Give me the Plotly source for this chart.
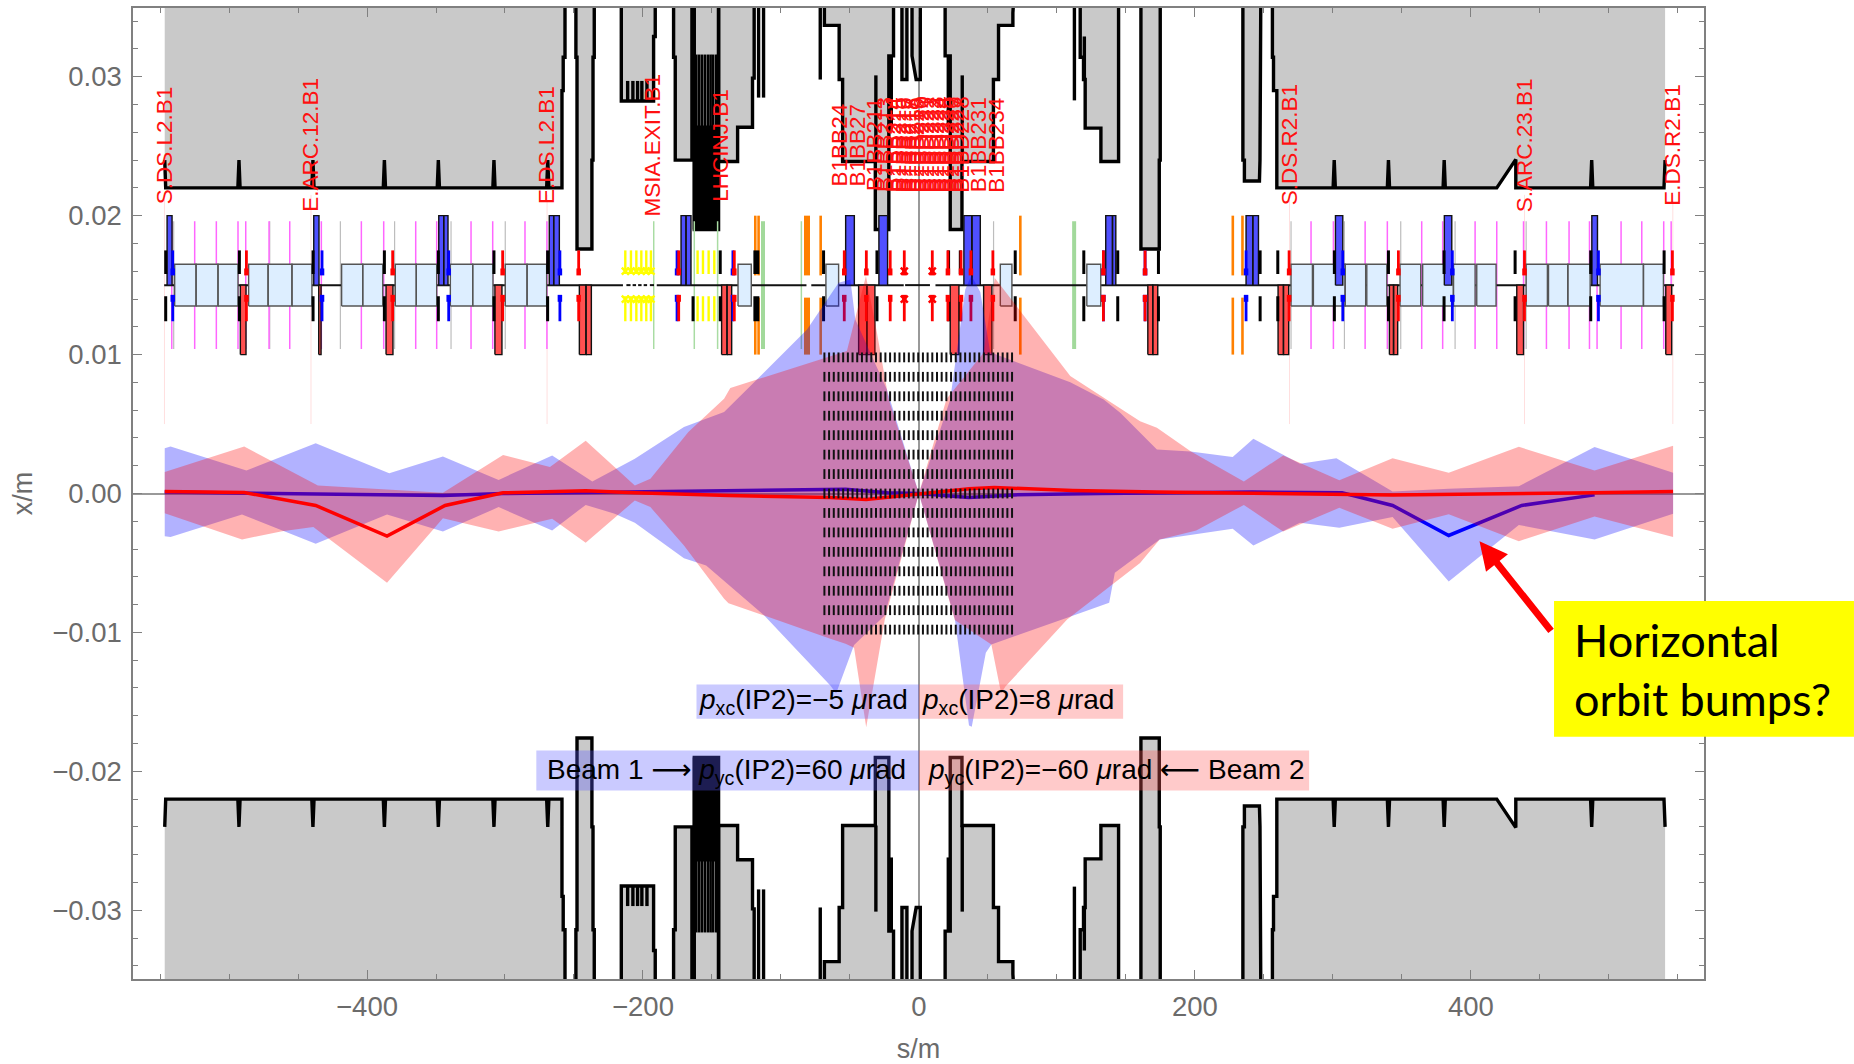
import plotly.graph_objects as go

# ---- aperture (upper side; lower side is its mirror) : s [m], x [m]
ARC_L_S = [-546.6,-546.6,-545.9,-493.6,-492.8,-492.0,-440.0,-439.2,-438.4,-388.2,-387.4,-386.6,-349.1,-348.3,-347.5,-308.8,-308.0,-307.2,-269.8,-269.0,-268.2,-258.7,-258.7,-257.8,-257.8,-256.5,-256.5]
ARC_L_X = [0.036,0.024,0.022,0.022,0.024,0.022,0.022,0.024,0.022,0.022,0.024,0.022,0.022,0.024,0.022,0.022,0.024,0.022,0.022,0.024,0.022,0.022,0.029,0.029,0.0314,0.0314,0.036]
ARC_R_S = [256.2,256.2,257.0,257.0,259.4,259.4,300.2,301.0,301.8,339.5,340.3,341.1,379.9,380.7,381.5,418.8,432.6,432.6,486.8,487.6,488.4,540.0,540.8,540.8]
ARC_R_X = [0.036,0.0314,0.0314,0.029,0.029,0.022,0.022,0.024,0.022,0.022,0.024,0.022,0.022,0.024,0.022,0.022,0.02405,0.022,0.022,0.024,0.022,0.022,0.024,0.036]
BLOCKS = [
    ([-248.6,-248.6,-247.8,-247.8,-237.0,-237.0,-236.2,-236.2,-235.3,-235.3],[0.036,0.0314,0.0314,0.0176,0.0176,0.024,0.024,0.0314,0.0314,0.036]),
    ([-215.7,-215.7,-192.3,-192.3,-191.1,-191.1],[0.036,0.02825,0.02825,0.0329,0.0329,0.036]),
    ([-177.8,-177.8,-176.6,-176.6,-164.5,-164.5],[0.036,0.0314,0.0314,0.024,0.024,0.036]),
    ([-162.8,-162.8,-145.2,-145.2],[0.036,0.019,0.019,0.036]),
    ([-145.2,-145.2,-131.4,-131.4,-120.6,-120.6,-119.4,-119.4],[0.036,0.0239,0.0239,0.02637,0.02637,0.0299,0.0299,0.036]),
    ([-68.5,-68.5,-57.8,-57.8,-55.3,-55.3,-31.6,-31.6,-21.8,-21.8,-18.4,-18.4],[0.036,0.0337,0.0337,0.0298,0.0298,0.0239,0.0239,0.019,0.019,0.0315,0.0315,0.036]),
    ([-12.3,-12.3,-8.7,-8.7],[0.036,0.0298,0.0298,0.036]),
    ([-5.0,-5.0,-2.0,1.0,1.0],[0.036,0.0315,0.0298,0.0298,0.036]),
    ([19.0,19.0,22.7,22.7,31.2,31.2,54.0,54.0,57.7,57.7,68.1,68.1,69.0],[0.036,0.0315,0.0315,0.019,0.019,0.0239,0.0239,0.0298,0.0298,0.0337,0.0337,0.0346,0.036]),
    ([116.9,116.9,119.3,119.3,120.5,120.5,131.9,131.9,144.7,144.7],[0.036,0.0314,0.0314,0.0298,0.0298,0.0263,0.0263,0.0239,0.0239,0.036]),
    ([160.9,160.9,174.2,174.2,174.9,174.9],[0.036,0.0176,0.0176,0.024,0.024,0.036]),
    ([234.8,234.8,235.9,235.9,246.8,247.2,247.8],[0.036,0.024,0.024,0.0225,0.0225,0.024,0.036]),
]
STUB_S  = [-211.1,-207.3,-203.9,-200.8,-197.1,-116.2,-112.6,-71.5,-31.2,-20.0,21.3,31.4,112.7,119.9]
STUB_LO = [0.02825,0.02825,0.02825,0.02825,0.02825,0.0285,0.0285,0.0298,0.0239,0.0262,0.0262,0.0239,0.0283,0.0298]
STUB_HI = [0.0297,0.0297,0.0297,0.0297,0.0297,0.036,0.036,0.036,0.0301,0.0315,0.0315,0.0301,0.036,0.0329]
INJ_STRIPE_S = [-161.5,-157.4,-153.0,-149.2,-145.6,-163.0,-147.0,-159.5,-155.2,-151.0]

# ---- lattice elements
CENTRE_LO = [-547,-212,-207.5,-203.5,-199.5,-195,-190,-78,-10,12]
CENTRE_HI = [-214.5,-209,-205,-201,-197,-192,-81.5,-11,8,547.3]
BOX_LO = [-539.4,-523.9,-508,-485.8,-471.7,-454.4,-418.4,-403.1,-379.5,-364.3,-339.6,-323.4,-299.8,-284,-131.1,-67.4,59,121.7,269.7,285.9,308.9,324.6,348.7,365.1,387.4,404.3,440.1,456.3,470.3,493.7,525.1]
BOX_HI = [-523.9,-508,-493.5,-471.7,-454.4,-439.9,-403.1,-388.6,-364.3,-349.5,-323.4,-308.7,-284,-269.8,-121.5,-58.2,67.4,131.8,285.2,308.9,323.8,339.1,363.7,387.4,403.1,418.3,455.5,470.3,486.5,525.1,539.6]
MB_B_LO = [-544.9,-438.6,-348,-344.4,-267.9,-264.7,-172.4,-168.8,-53.1,-29,32.6,38.4,135.4,140.3,237.1,242,301.9,380.8,487.7]
MB_B_HI = [-541.3,-434.8,-344.4,-341.3,-264.7,-260.6,-168.8,-165.2,-46.8,-22.7,38.4,44.5,140.3,142.7,242,246.1,307.2,386.2,491.8]
MB_R_LO = [-491.8,-435,-386.2,-307.3,-246.1,-241.3,-143,-139.1,-43.7,-37.7,22.7,46.9,165.9,169.5,260.3,264.2,341,344,433.3,541.3]
MB_R_HI = [-487.7,-433.3,-381.2,-302.2,-241.3,-237.4,-139.1,-135.7,-37.7,-31.9,29,52.9,169.5,173.1,264.2,268,344,347,438.2,545.6]
SHORT_BLACK = [-545.9,-492.5,-439.1,-387.4,-348.3,-308,-269.1,-144,-69.1,-30.4,21.5,30,69.8,119.5,144.1,173.6,247.3,260.1,301.1,340.3,380.6,432.1,486.9,540.1]
SHORT_BLACK_THICK = [-117.8]
SHORT_BLACK_LOWER = [-163.7]
SHORT_BLUE = [-540.8,-432.6,-340.8,-260.2,-175.3,-134.8,133.7,163.9,237.1,307.2,386.6,492.5]
SHORT_RED = [-487.4,-381.4,-301.7,-246.6,-174.1,-133.8,-54.1,-38.1,-20.8,-10.6,9.7,21,30.5,37.7,53.6,133.7,163.9,268.3,347.5,438.9,546.1]
YELLOW = [-212.8,-208.7,-204.8,-201.2,-197.6,-194.2,-160.4,-156.5,-152.4,-148.3]
YELLOW_X = [-212.8,-208.7,-204.8,-201.2,-197.6,-194.2]
RED_X = [-10.6,9.7]
ORANGE_THIN = [-118.6,-116.2,-71.2,73.5,227.5,234.5]
ORANGE_THICK = [-81.1]
GREEN_THIN = [-192.2,-162.8,-145.9,-85.2]
GREEN_THICK = [-113,112.5]
PINK = [-541.5,-524.9,-509.2,-493.5,-487.9,-471,-456,-433.1,-404.1,-387.9,-364.7,-349.5,-324.6,-308.9,-285.5,-269.6,284.2,300.4,323.4,339.5,364.4,379.6,403.1,418.8,438.2,454.8,471.2,486,491.5,508.9,523.9,539.8,545.2]
GREY_LINES = [-540.1,-470.5,-419.3,-380,-339.1,-299.8,54.1,269.7,308.4,349.2,388.6,440.1]
STEMS = [-546.8,-440.6,-269.5,268.6,438.9,546.4]

# ---- labels
LABELS = ["S.DS.L2.B1","E.ARC.12.B1","E.DS.L2.B1","MSIA.EXIT.B1","LHCINJ.B1","B1BB24","B1BB27",
          "B1BB211","B1BB213","B1BB214","B1BB215","B1BB216","B1BB217","B1BB218","B1BB219","B1BD220",
          "B1BD221","B1BD222","B1BD223","B1BD224","B1BD225","B1BD226","B1BD227","B1BD228",
          "B1BB231","B1BB234","S.DS.R2.B1","S.ARC.23.B1","E.DS.R2.B1"]
LABEL_S = [-546.8,-440.6,-269.5,-193,-143.5,-57.5,-44.4,
           -31.7,-24.4,-18.4,-14.8,-11.1,-7.5,-4.4,-1.5,2.1,
           5.8,9.4,13,16.6,20.3,23.9,27.5,31.1,
           43.2,56.5,268.6,438.9,546.4]

# ---- beam envelopes
B1_UP_S = [-546.6,-542.4,-487.4,-437.2,-383.9,-345,-304.6,-265.8,-236.7,-205.9,-170.3,-157,-141.2,-117.4,-81.1,-58.2,-49.7,-46.1,-23.2,0,22.7,33.6,38,44.5,51.7,109.7,133.9,146.1,172.5,196.9,227.4,242.4,276.2,302.6,343.3,384,434.8,489.7,546.6]
B1_UP_X = [0.00326,0.00338,0.00166,0.00362,0.00146,0.00266,0.00098,0.00274,0.00086,0.0025,0.00478,0.00526,0.00586,0.00821,0.0118,0.01517,0.0154,0.01253,0.00749,0,0.00677,0.01469,0.0157,0.0145,0.01017,0.008,0.00677,0.0058,0.00317,0.00302,0.00262,0.00394,0.00214,0.00254,0.00014,0.00034,0.00053,0.00334,0.00149]
B1_LO_S = [-546.6,-542.4,-490.6,-437.2,-385.5,-345,-304.6,-265.8,-241.5,-220.5,-205.9,-170.3,-154.2,-112.1,-64.2,-60,-47,-25,0,26,36.3,38.3,48.5,52.5,107.4,137.9,142,174.5,227.4,242.4,276.2,304.7,343.3,384,434.8,489.7,546.6]
B1_LO_X = [-0.00307,-0.00314,-0.00151,-0.00362,-0.00151,-0.00274,-0.00098,-0.00266,-0.00082,-0.00146,-0.00211,-0.00466,-0.00518,-0.00878,-0.01382,-0.0144,-0.0109,-0.0088,0,-0.00902,-0.0167,-0.0168,-0.01147,-0.01087,-0.00895,-0.00787,-0.00571,-0.00331,-0.00254,-0.00374,-0.00211,-0.00247,-0.0017,-0.00634,-0.00226,-0.00331,-0.00146]
B2_UP_S = [-546.6,-489,-435.6,-385.5,-345,-301.4,-267.4,-241.5,-205.9,-194.6,-167.1,-141.2,-136.7,-52.2,-38.4,-30.4,-21.9,0,20,46.9,55,109.7,160.3,172.5,196.9,235.5,264,304.7,343.3,384,434.8,489.7,546.6]
B2_UP_X = [0.00154,0.00338,0.00058,0.00026,0.00005,0.00278,0.0019,0.00379,0.00058,0.00106,0.00442,0.00682,0.0076,0.01025,0.01565,0.01157,0.00677,0,0.0068,0.01013,0.01552,0.00845,0.00521,0.00473,0.00305,0.00086,0.00274,0.00096,0.00254,0.00149,0.00336,0.00166,0.00343]
B2_LO_S = [-546.6,-490.6,-461.5,-438.9,-385.5,-345,-304.6,-265.8,-241.5,-205.9,-194.6,-170.3,-141.2,-138,-112.1,-64.2,-53.2,-47,-38.2,-24.7,0,26,52.5,59.6,62.7,107.4,160.3,174.5,201,235.5,264,304.7,343.3,384,434.8,489.7,546.6]
B2_LO_X = [-0.00142,-0.00331,-0.00271,-0.00242,-0.00643,-0.00178,-0.00274,-0.00182,-0.00355,-0.0005,-0.00098,-0.00374,-0.00758,-0.0079,-0.00878,-0.01046,-0.01082,-0.0111,-0.01682,-0.00905,0,-0.0091,-0.01087,-0.0144,-0.0139,-0.00907,-0.005,-0.00331,-0.00266,-0.00082,-0.00274,-0.00103,-0.00254,-0.00149,-0.00343,-0.00166,-0.00314]

# ---- closed orbits
B1_ORB_S = [-546.6,-489,-437,-385.5,-345,-301.4,-205.9,-64.2,-53.2,-22.7,0,36.3,68.8,131.8,241.6,306.7,343.3,384,436.9,489.7]
B1_ORB_X = [0.0001,0.00002,0,-0.0001,-0.00014,0,0.0001,0.00029,0.0003,0.00005,0,-0.00029,-0.0001,0,0.0001,0.00005,-0.00086,-0.00302,-0.00086,-0.0001]
B2_ORB_S = [-546.6,-489,-437.2,-385.5,-343.4,-301.4,-241.5,-205.9,-138,-64.2,-38.2,-22.7,0,9.8,36.3,54.6,68.8,111.5,172.5,343.3,489.7,546.6]
B2_ORB_X = [0.00014,0.00007,-0.00086,-0.00307,-0.00086,0.00005,0.00019,0.00005,-0.00014,-0.00029,-0.00043,-0.00026,0,0.0001,0.00034,0.00043,0.00038,0.00022,0.0001,-0.0001,0.00005,0.00014]

# ---- crossing-scheme grid
GRID_S = [-68.5,-65.1,-61.7,-58.3,-54.9,-51.5,-48.1,-44.7,-41.3,-37.9,-34.5,-31.1,-27.7,-24.3,-20.9,-17.5,-14.1,-10.7,-7.3,-3.9,-0.5,2.9,6.3,9.7,13.1,16.5,19.9,23.3,26.7,30.1,33.5,36.9,40.3,43.7,47.1,50.5,53.9,57.3,60.7,64.1,67.5]
GRID_X = [0.0098,0.0084,0.007,0.0056,0.0042,0.0028,0.0014,0,-0.0014,-0.0028,-0.0042,-0.0056,-0.007,-0.0084,-0.0098]

TEXT_ROWS = [
    ("<i>p</i><sub>xc</sub>(IP2)=−5 <i>μ</i>rad", -83.5, -0.015, "blue", -161.2, 0, -0.01622, -0.01375),
    ("<i>p</i><sub>xc</sub>(IP2)=8 <i>μ</i>rad", 71.7, -0.015, "red", 0, 148, -0.01622, -0.01375),
    ("Beam 1 ⟶ <i>p</i><sub>yc</sub>(IP2)=60 <i>μ</i>rad", -139.6, -0.02, "blue", -277.3, 0, -0.02138, -0.0185),
    ("<i>p</i><sub>yc</sub>(IP2)=−60 <i>μ</i>rad ⟵ Beam 2", 143.5, -0.02, "red", 0, 282.8, -0.02138, -0.0185),
]


def vseg(xs, y0, y1):
    X, Y = [], []
    for s in xs:
        X += [s, s, None]
        Y += [y0, y1, None]
    return X, Y


def both(xs, a0, a1, b0, b1):
    X1, Y1 = vseg(xs, a0, a1)
    X2, Y2 = vseg(xs, b0, b1)
    return X1 + X2, Y1 + Y2


def rects(lo, hi, y0, y1):
    X, Y = [], []
    for a, b in zip(lo, hi):
        X += [a, a, b, b, a, None]
        Y += [y0, y1, y1, y0, y0, None]
    return X, Y


fig = go.Figure()


def add_line(x, y, color, width):
    fig.add_trace(go.Scatter(x=x, y=y, mode="lines", line=dict(color=color, width=width),
                             hoverinfo="skip", showlegend=False, connectgaps=False))


def add_fill(x, y, fill, line_color=None, line_width=0):
    fig.add_trace(go.Scatter(x=x, y=y, mode="lines", fill="toself", fillcolor=fill,
                             line=dict(color=line_color or "rgba(0,0,0,0)", width=line_width),
                             hoverinfo="skip", showlegend=False))


# aperture
fx, fy, ox, oy = [], [], [], []
polys = [(ARC_L_S, ARC_L_X, 1, None), (ARC_R_S, ARC_R_X, 0, -1)] + [(a, b, 0, None) for a, b in BLOCKS]
for sign in (1, -1):
    for ss, xx, i0, i1 in polys:
        fx += ss + [None]
        fy += [sign * v for v in xx] + [None]
        ox += ss[i0:i1] + [None]
        oy += [sign * v for v in xx[i0:i1]] + [None]
add_fill(fx, fy, "#c9c9c9")
ix, iy = [], []
for sign in (1, -1):
    a, b = vseg(INJ_STRIPE_S, sign * 0.019, sign * 0.0316)
    ix += a
    iy += b
add_line(ix, iy, "black", 2.6)
sx, sy = [], []
for sign in (1, -1):
    for s, a, b in zip(STUB_S, STUB_LO, STUB_HI):
        sx += [s, s, None]
        sy += [sign * a, sign * b, None]
add_fill(*rects([-162.8], [-145.2], 0.019, 0.0265), "black")
add_fill(*rects([-162.8], [-145.2], -0.0265, -0.019), "black")
add_line(ox, oy, "black", 3.4)
add_line(sx, sy, "black", 3.4)

# lattice
add_line(*vseg(STEMS, 0.005, 0.0215), "rgba(255,0,0,0.13)", 1)
add_line(*vseg(GREY_LINES, 0.0104, 0.0196), "#bdbdbd", 1.2)
add_line(*vseg(PINK, 0.0104, 0.0196), "#ff66ff", 1.5)
add_line(*vseg(GREEN_THIN, 0.0104, 0.0196), "#a9dca3", 1.5)
add_line(*vseg(GREEN_THICK, 0.0104, 0.0196), "#a2d99b", 4)
add_line(*both(ORANGE_THIN, 0.0157, 0.02, 0.01, 0.0141), "#ff8000", 2.6)
add_line(*both(ORANGE_THICK, 0.0157, 0.02, 0.01, 0.0141), "#ff8000", 6)
add_line(*both(YELLOW, 0.0158, 0.0175, 0.0124, 0.0142), "#ffff00", 2.4)
cx, cy = [], []
for a, b in zip(CENTRE_LO, CENTRE_HI):
    cx += [a, b, None]
    cy += [0.015, 0.015, None]
add_line(cx, cy, "#111111", 2)
add_fill(*rects(BOX_LO, BOX_HI, 0.0135, 0.0165), "#ddeeff", "#555555", 1.4)
add_fill(*rects(MB_B_LO, MB_B_HI, 0.015, 0.02), "#5050ff", "#111111", 1.4)
add_fill(*rects(MB_R_LO, MB_R_HI, 0.01, 0.015), "#ff5050", "#111111", 1.4)
add_line(*both(SHORT_BLACK, 0.0158, 0.0175, 0.0124, 0.0142), "black", 3)
add_line(*both(SHORT_BLACK_THICK, 0.0158, 0.0175, 0.0124, 0.0142), "black", 6)
add_line(*vseg(SHORT_BLACK_LOWER, 0.0124, 0.0142), "black", 3)
add_line(*both(SHORT_BLUE, 0.0158, 0.0175, 0.0124, 0.0142), "#0000ff", 2.8)
add_line(*both(SHORT_BLUE, 0.0157, 0.0162, 0.0138, 0.0143), "#0000ff", 4.5)
add_line(*both(SHORT_RED, 0.0158, 0.0175, 0.0124, 0.0142), "#ff0000", 2.8)
add_line(*both(SHORT_RED, 0.0157, 0.0162, 0.0138, 0.0143), "#ff0000", 4.5)
fig.add_trace(go.Scatter(x=YELLOW_X + YELLOW_X, y=[0.016] * len(YELLOW_X) + [0.014] * len(YELLOW_X), mode="markers",
                         marker=dict(symbol="x-thin", size=7, line=dict(color="#ffff00", width=2.5)), hoverinfo="skip", showlegend=False))
fig.add_trace(go.Scatter(x=RED_X + RED_X, y=[0.016] * 2 + [0.014] * 2, mode="markers",
                         marker=dict(symbol="x-thin", size=7, line=dict(color="#ff0000", width=2.5)), hoverinfo="skip", showlegend=False))

# beams: beam 1 band, beam 1 orbit, beam 2 band, beam 2 orbit
add_fill(B1_UP_S + B1_LO_S[::-1], B1_UP_X + B1_LO_X[::-1], "rgba(0,0,255,0.3)")
add_line(B1_ORB_S, B1_ORB_X, "#0000ff", 3.5)
add_fill(B2_UP_S + B2_LO_S[::-1], B2_UP_X + B2_LO_X[::-1], "rgba(255,0,0,0.3)")
add_line(B2_ORB_S, B2_ORB_X, "#ff0000", 3.5)

# crossing grid
gx = [s for _ in GRID_X for s in GRID_S]
gy = [v for v in GRID_X for _ in GRID_S]
fig.add_trace(go.Scatter(x=gx, y=gy, mode="markers", hoverinfo="skip", showlegend=False,
                         marker=dict(symbol="line-ns", size=7, line=dict(color="#111111", width=2))))

annotations = []
for name, s in zip(LABELS, LABEL_S):
    annotations.append(dict(x=s, y=0.0251, xref="x", yref="y", text=name, textangle=-90, showarrow=False,
                            font=dict(family="Liberation Sans", size=22.5, color="#ff1010")))
shapes = []
for txt, s, y, col, x0, x1, y0, y1 in TEXT_ROWS:
    annotations.append(dict(x=s, y=y, xref="x", yref="y", text=txt, showarrow=False,
                            font=dict(family="Liberation Sans, DejaVu Sans", size=28, color="black")))
    shapes.append(dict(type="rect", xref="x", yref="y", x0=x0, x1=x1, y0=y0, y1=y1, layer="above", line_width=0,
                       fillcolor="rgba(90,90,255,0.32)" if col == "blue" else "rgba(255,90,90,0.32)"))

L, R, T, B = 132.7, 150, 8, 85
PW, PH = 1854 - L - R, 1064 - T - B
shapes.append(dict(type="rect", xref="paper", yref="paper", layer="above", line_width=0, fillcolor="#ffff00",
                   x0=(1554 - L) / PW, x1=(1854 - L) / PW, y0=1 - (736.7 - T) / PH, y1=1 - (601 - T) / PH))
annotations.append(dict(xref="paper", yref="paper", x=(1572 - L) / PW, y=1 - (669 - T) / PH, xanchor="left", yanchor="middle", align="left",
                        text="Horizontal<br>orbit bumps?", showarrow=False,
                        font=dict(family="Lato", size=45, color="black")))
annotations.append(dict(x=406.3, y=-0.00343, ax=459, ay=-0.01, xref="x", yref="y", axref="x", ayref="y", text="",
                        showarrow=True, arrowhead=2, arrowsize=0.8, arrowwidth=7, arrowcolor="#ff0000"))

axis_common = dict(showgrid=False, showline=True, linecolor="#808080", linewidth=1.5, mirror="ticks",
                   ticks="inside", ticklen=9, tickwidth=1.3, tickcolor="#808080", automargin=False,
                   tickfont=dict(family="Liberation Sans", size=27.5, color="#6b6b6b"),
                   zeroline=True, zerolinecolor="#999999", zerolinewidth=1.5,
                   title_font=dict(family="Liberation Sans", size=27, color="#6b6b6b"))
fig.update_layout(
    width=1854, height=1064, autosize=False,
    margin=dict(l=L, r=R, t=T, b=B, pad=0),
    paper_bgcolor="white", plot_bgcolor="white", showlegend=False,
    xaxis=dict(range=[-569.6, 569.0], tick0=0, dtick=200, title_text="s/m", title_standoff=20,
               minor=dict(dtick=50, tick0=0, ticks="inside", ticklen=5, tickcolor="#808080", tickwidth=1.2, showgrid=False),
               ticklabelstandoff=2, **axis_common),
    yaxis=dict(range=[-0.03495, 0.03495], tick0=0, dtick=0.01, tickformat=".2f", title_text="x/m", title_standoff=12,
               minor=dict(dtick=0.002, tick0=0, ticks="inside", ticklen=5, tickcolor="#808080", tickwidth=1.2, showgrid=False),
               ticklabelstandoff=4, **axis_common),
    annotations=annotations, shapes=shapes,
)
fig.write_html("out.html", config={"displayModeBar": False},
               post_script="document.body.style.margin='0';document.documentElement.style.overflow='hidden';")
